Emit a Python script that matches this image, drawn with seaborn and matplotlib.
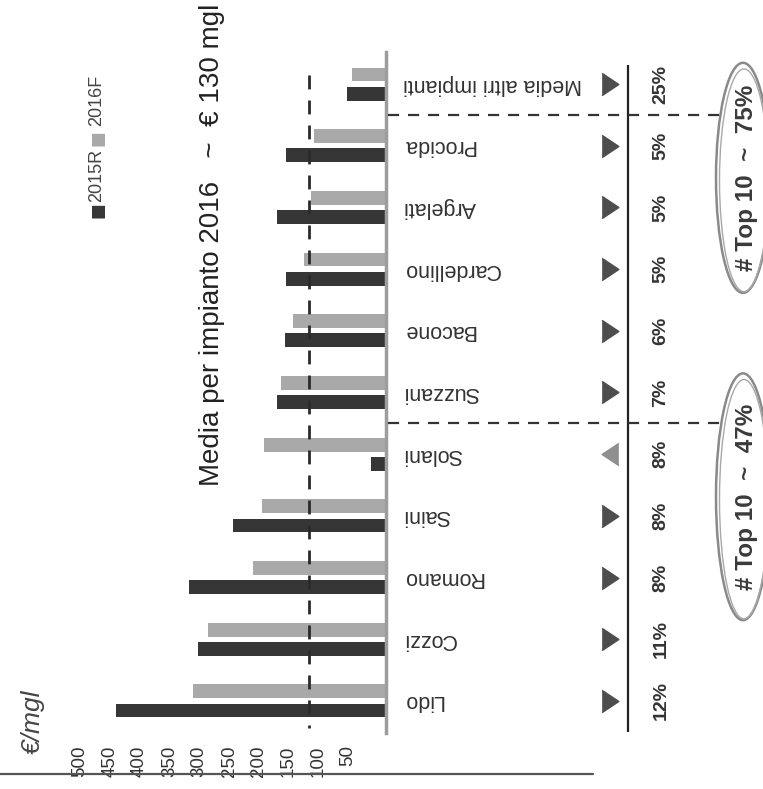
import numpy as np
import pandas as pd
import matplotlib
matplotlib.use("Agg")
import matplotlib.pyplot as plt
import matplotlib.transforms as mtransforms
from matplotlib.patches import Ellipse
from matplotlib.lines import Line2D
import seaborn as sns

# ---------------- data (top to bottom in the picture) ----------------
categories = ['Media altri impianti', 'Procida', 'Argelati', 'Cardellino', 'Bacone',
              'Suzzani', 'Solani', 'Saini', 'Romano', 'Cozzi', 'Lido']
values_2015R = [65, 168, 183, 168, 169, 183, 25, 257, 331, 315, 453]
values_2016F = [57, 121, 126, 138, 156, 176, 205, 208, 223, 299, 324]
shares = ['25%', '5%', '5%', '5%', '6%', '7%', '8%', '8%', '8%', '11%', '12%']
series = ['2015R', '2016F']
average_2016 = 130
tick_values = [50, 100, 150, 200, 250, 300, 350, 400, 450, 500]
title = 'Media per impianto 2016   ~  € 130 mgl'
unit_label = '€/mgl'
group_notes = ['# Top 10  ~  75%', '# Top 10  ~  47%']

# ---------------- style ----------------
sns.set_theme(style='white')
plt.rcParams['font.family'] = ['Liberation Sans', 'DejaVu Sans']

DARK = '#363636'
GRAY = '#a9a9a9'
INK = '#2a2a2a'

W, H = 763, 789
fig = plt.figure(figsize=(W / 100, H / 100), dpi=100)
fig.patch.set_facecolor('white')

def fx(px):
    return px / W

def fy(py):
    return 1 - py / H

# main bar axes: value axis runs right (0) to left
ax_left, ax_right, ax_top, ax_bot = 60, 386, 52, 733
ax = fig.add_axes([fx(ax_left), fy(ax_bot), fx(ax_right - ax_left), (ax_bot - ax_top) / H])

df = pd.DataFrame({
    'impianto': categories * 2,
    'valore': values_2015R + values_2016F,
    'anno': ['2015R'] * len(categories) + ['2016F'] * len(categories),
})
sns.barplot(data=df, y='impianto', x='valore', hue='anno', order=categories,
            hue_order=['2016F', '2015R'], palette={'2015R': DARK, '2016F': GRAY},
            orient='h', width=0.62, gap=0.28, legend=False, ax=ax,
            saturation=1, linewidth=0)

ax.set_xlim(547, 0)
ax.set_ylim(len(categories) - 0.48, -0.52)
ax.set_xlabel('')
ax.set_ylabel('')
ax.set_xticks(tick_values)
ax.set_xticklabels([str(v) for v in tick_values], rotation=90, fontsize=13.5, color='#333')
ax.tick_params(axis='x', length=0, pad=9)
offset = mtransforms.ScaledTranslation(-8 / 100, 0, fig.dpi_scale_trans)
for lab in ax.get_xticklabels():
    lab.set_transform(lab.get_transform() + offset)

# category labels on the right of the baseline, upside down
ax.yaxis.tick_right()
ax.tick_params(axis='y', length=0, pad=12, labelsize=15.5, labelcolor='#333')
for lab in ax.get_yticklabels():
    lab.set_rotation(180)
    lab.set_ha('left')
    lab.set_va('center')

for s in ['left', 'top', 'bottom']:
    ax.spines[s].set_visible(False)
ax.spines['right'].set_color('#9d9d9d')
ax.spines['right'].set_linewidth(2.5)
ax.patch.set_alpha(0)

# average line
ypos = np.arange(len(categories))
ax.vlines(average_2016, -0.15, len(categories) - 0.56, colors=INK, linewidth=2,
          linestyles=(0, (5, 4)))

# right-side axes (x in pixel-like units) sharing the category scale
ax2 = fig.add_axes([fx(ax_right), fy(ax_bot), fx(W - ax_right), (ax_bot - ax_top) / H], sharey=ax)
ax2.set_xlim(ax_right, W)
ax2.axis('off')
ax2.patch.set_alpha(0)

# trend triangles derived from the data
tri_right = [(-0.75, -1), (0.75, 0), (-0.75, 1)]
tri_left = [(0.75, -1), (-0.75, 0), (0.75, 1)]
for i, (a, b) in enumerate(zip(values_2015R, values_2016F)):
    if b > a:
        ax2.plot([610], [ypos[i]], marker=tri_left, markersize=16, color='#8f8f8f', linestyle='none')
    else:
        ax2.plot([610], [ypos[i]], marker=tri_right, markersize=16, color='#4d4d4d', linestyle='none')

# share percentages
for i, s in enumerate(shares):
    ax2.text(661, ypos[i], s, rotation=90, ha='center', va='center',
             fontsize=14, fontweight='bold', color='#333')

# vertical solid separator
ax2.vlines(628, -0.31, len(categories) - 0.5, colors='#222', linewidth=1.6)

# dashed group separators
for sep in [0.5, 5.5]:
    ax2.hlines(sep, 388, 720, colors='#333', linewidth=1.6, linestyles=(0, (5, 4)),
               clip_on=False)

# ovals with notes
for (cy, hgt), note in zip([(1.52, 3.73), (6.69, 4.0)], group_notes):
    ax2.add_patch(Ellipse((743, cy), width=54, height=hgt, fill=False,
                          edgecolor='#8a8a8a', linewidth=1.8, clip_on=False))
    ax2.add_patch(Ellipse((744, cy + 0.04), width=49, height=hgt - 0.12, fill=False,
                          edgecolor='#a8a8a8', linewidth=1.0, clip_on=False))
    ax2.text(746, cy, note, rotation=90, ha='center', va='center',
             fontsize=17.5, fontweight='bold', color='#3a3a3a', clip_on=False)

# title, legend, unit label
fig.text(fx(212), fy(245), title, rotation=90, ha='center', va='center',
         fontsize=20, color='#222')
fig.text(fx(97), fy(210), '■', rotation=90, ha='center', va='center',
         fontsize=12, color=DARK, family=['DejaVu Sans'])
fig.text(fx(97), fy(175), series[0], rotation=90, ha='center', va='center',
         fontsize=13, color='#444')
fig.text(fx(97), fy(138), '■', rotation=90, ha='center', va='center',
         fontsize=12, color=GRAY, family=['DejaVu Sans'])
fig.text(fx(97), fy(100), series[1], rotation=90, ha='center', va='center',
         fontsize=13, color='#444')
fig.text(fx(33), fy(722), unit_label, rotation=90, ha='center', va='center',
         fontsize=19, style='italic', color='#444')

# bottom rule
fig.add_artist(Line2D([0, fx(593)], [fy(774), fy(774)], color='#555', linewidth=1.6,
                      transform=fig.transFigure))

fig.savefig('out.png', dpi=100)
